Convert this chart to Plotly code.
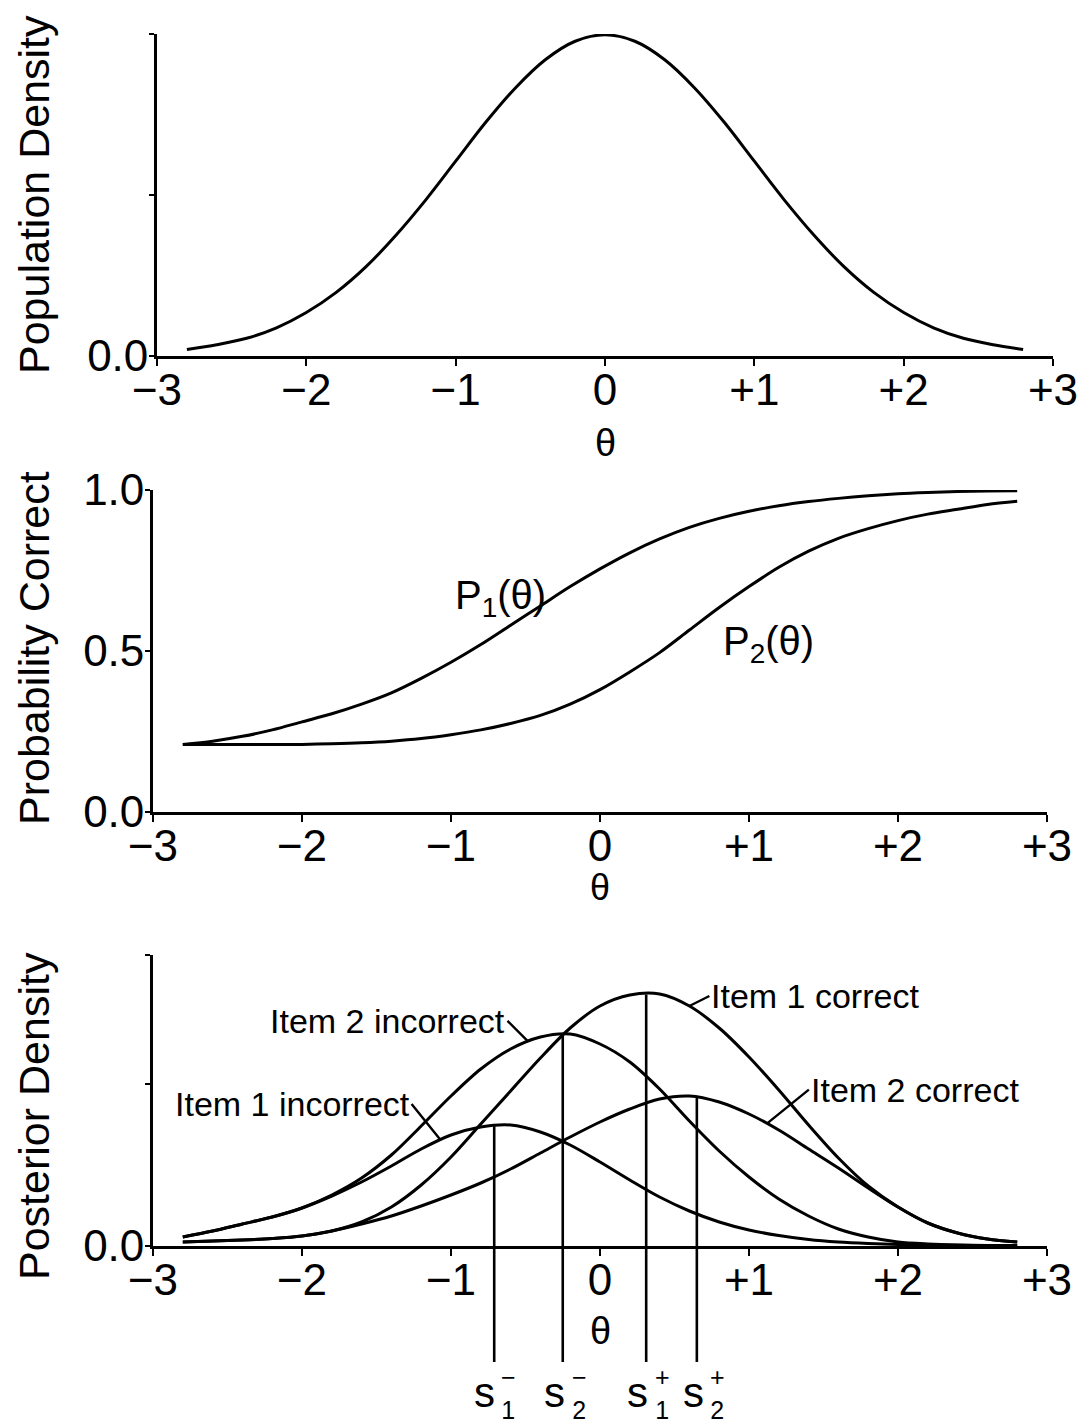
import numpy as np
import plotly.graph_objects as go

# ---------------- data ----------------
THETA = [-2.8, -2.6, -2.4, -2.2, -2.0, -1.8, -1.6, -1.4, -1.2, -1.0, -0.8, -0.6, -0.4, -0.2, 0.0,
         0.2, 0.4, 0.6, 0.8, 1.0, 1.2, 1.4, 1.6, 1.8, 2.0, 2.2, 2.4, 2.6, 2.8]

POP_DENSITY = [0.008, 0.014, 0.022, 0.035, 0.054, 0.079, 0.111, 0.150, 0.194, 0.242, 0.290, 0.333, 0.368, 0.391, 0.399,
               0.391, 0.368, 0.333, 0.290, 0.242, 0.194, 0.150, 0.111, 0.079, 0.054, 0.035, 0.022, 0.014, 0.008]

P1 = [0.21, 0.22, 0.235, 0.255, 0.28, 0.305, 0.335, 0.37, 0.415, 0.465, 0.52, 0.58, 0.64, 0.70, 0.755,
      0.805, 0.848, 0.884, 0.912, 0.934, 0.951, 0.964, 0.974, 0.982, 0.988, 0.992, 0.995, 0.997, 0.998]

P2 = [0.21, 0.21, 0.21, 0.21, 0.21, 0.212, 0.215, 0.22, 0.228, 0.24, 0.255, 0.275, 0.30, 0.335, 0.38,
      0.435, 0.495, 0.565, 0.635, 0.70, 0.76, 0.81, 0.85, 0.88, 0.905, 0.925, 0.94, 0.955, 0.965]

# posterior densities (arbitrary units)
ITEM1_CORRECT = [4, 5, 6, 7.5, 10, 15, 24, 39, 61, 89, 122, 155, 188, 218, 240,
                 251, 252, 240, 218, 189, 156, 121, 88, 60, 39, 23, 13, 7, 4]
ITEM1_INCORRECT = [9, 15, 22, 29, 38, 50, 64, 80, 97, 111, 119, 121, 114, 101, 84,
                   66, 49, 35, 24, 16, 10.5, 6.5, 4, 2.5, 1.5, 1, 0.7, 0.5, 0.4]
ITEM2_INCORRECT = [9, 15, 22, 29, 38, 51, 68, 91, 120, 150, 177, 197, 209, 212, 202,
                   184, 157, 125, 95, 69, 47, 30, 17, 9, 4, 2, 1, 0.6, 0.4]
ITEM2_CORRECT = [4, 5, 6, 7.5, 10, 15, 22, 30, 40, 51, 63, 77, 93, 109, 124,
                 137, 147, 150, 144, 132, 116, 97, 78, 58, 39, 23, 13, 7, 4]

# posterior modes s1-, s2-, s1+, s2+
S_THETA = [-0.71, -0.25, 0.31, 0.65]
S_SIGN = ["−", "−", "+", "+"]
S_INDEX = ["1", "2", "1", "2"]

X_TICKS = [-3, -2, -1, 0, 1, 2, 3]
X_TICKTEXT = ["−3", "−2", "−1", "0", "+1", "+2", "+3"]

# ---------------- layout helpers (pixel -> paper) ----------------
W, H = 1079, 1422
FONT = "Liberation Sans, Arial, Helvetica, sans-serif"


def fx(p):
    return p / W


def fy(p):
    return (H - p) / H


LINE_W = 3.0
LINE_BOTTOM = -116  # lines under the third panel run below the axis

curve_style = dict(color="black", width=LINE_W, shape="spline", smoothing=0.9)

fig = go.Figure()

# panel 1
fig.add_trace(go.Scatter(x=THETA, y=POP_DENSITY, mode="lines", line=curve_style,
                         xaxis="x", yaxis="y", showlegend=False, hoverinfo="skip"))
# panel 2
fig.add_trace(go.Scatter(x=THETA, y=P1, mode="lines", line=curve_style,
                         xaxis="x2", yaxis="y2", showlegend=False, hoverinfo="skip"))
fig.add_trace(go.Scatter(x=THETA, y=P2, mode="lines", line=curve_style,
                         xaxis="x2", yaxis="y2", showlegend=False, hoverinfo="skip"))
# panel 3
for series in (ITEM1_CORRECT, ITEM1_INCORRECT, ITEM2_INCORRECT, ITEM2_CORRECT):
    fig.add_trace(go.Scatter(x=THETA, y=series, mode="lines", line=curve_style,
                             xaxis="x3", yaxis="y3", showlegend=False, hoverinfo="skip"))

# vertical lines at the posterior modes
mode_curves = [ITEM1_INCORRECT, ITEM2_INCORRECT, ITEM1_CORRECT, ITEM2_CORRECT]
for s, curve in zip(S_THETA, mode_curves):
    top = float(np.interp(s, THETA, curve))
    fig.add_trace(go.Scatter(x=[s, s], y=[LINE_BOTTOM, top], mode="lines",
                             line=dict(color="black", width=2.6),
                             xaxis="x3", yaxis="y4", showlegend=False, hoverinfo="skip"))

tickfont = dict(family=FONT, size=44, color="black")
xcommon = dict(range=[-3, 3], tickvals=X_TICKS, ticktext=X_TICKTEXT, ticks="outside",
               ticklen=7, tickwidth=2.4, tickcolor="black", showline=True, linecolor="black",
               linewidth=2.8, showgrid=False, zeroline=False, tickfont=tickfont,
               ticklabelstandoff=-14, automargin=False, fixedrange=True)
ycommon = dict(ticks="outside", ticklen=5, tickwidth=2.4, tickcolor="black", showline=True,
               linecolor="black", linewidth=2.8, showgrid=False, zeroline=False,
               tickfont=tickfont, ticklabelstandoff=-8, automargin=False, fixedrange=True)

fig.update_layout(
    width=W, height=H, autosize=False,
    margin=dict(l=0, r=0, t=0, b=0, pad=0),
    paper_bgcolor="white", plot_bgcolor="rgba(0,0,0,0)",
    font=dict(family=FONT, color="black"),
    xaxis=dict(domain=[fx(157), fx(1053)], anchor="y", **xcommon),
    yaxis=dict(domain=[fy(356), fy(34)], anchor="x", range=[0, 0.4],
               tickvals=[0, 0.2, 0.4], ticktext=["0.0", "", ""], **ycommon),
    xaxis2=dict(domain=[fx(153), fx(1047)], anchor="y2", **xcommon),
    yaxis2=dict(domain=[fy(812), fy(490)], anchor="x2", range=[0, 1],
                tickvals=[0, 0.5, 1.0], ticktext=["0.0", "0.5", "1.0"], **ycommon),
    xaxis3=dict(domain=[fx(153), fx(1047)], anchor="y3", **xcommon),
    yaxis3=dict(domain=[fy(1246), fy(955)], anchor="x3", range=[0, 291],
                tickvals=[0, 162, 291], ticktext=["0.0", "", ""], **ycommon),
    yaxis4=dict(domain=[fy(1362), fy(955)], anchor="x3", range=[LINE_BOTTOM, 291],
                visible=False, fixedrange=True),
)

ann = []
# y-axis titles
for text, yc in (("Population Density", 195), ("Probability Correct", 648), ("Posterior Density", 1116)):
    ann.append(dict(text=text, xref="paper", yref="paper", x=fx(34), y=fy(yc),
                    textangle=-90, showarrow=False, xanchor="center", yanchor="middle",
                    font=dict(family=FONT, size=43, color="black")))
# theta labels
for xr, yc, fs in (("x", 443, 38), ("x2", 887, 36), ("x3", 1331, 38)):
    ann.append(dict(text="θ", xref=xr, yref="paper", x=0, y=fy(yc), showarrow=False,
                    xanchor="center", yanchor="middle",
                    font=dict(family=FONT, size=fs, color="black")))
# P labels
ann.append(dict(text="P<sub>1</sub>(θ)", xref="paper", yref="paper", x=fx(500), y=fy(598),
                showarrow=False, xanchor="center", yanchor="middle",
                font=dict(family=FONT, size=40, color="black")))
ann.append(dict(text="P<sub>2</sub>(θ)", xref="paper", yref="paper", x=fx(768), y=fy(644),
                showarrow=False, xanchor="center", yanchor="middle",
                font=dict(family=FONT, size=40, color="black")))

# labelled curves in panel 3 with leader lines
item_font = dict(family=FONT, size=34, color="black")
labels = [
    ("Item 1 correct", 0.60, ITEM1_CORRECT, "left", 20, -10),
    ("Item 2 incorrect", -0.48, ITEM2_INCORRECT, "right", -21, -21),
    ("Item 1 incorrect", -1.07, ITEM1_INCORRECT, "right", -29, -36),
    ("Item 2 correct", 1.12, ITEM2_CORRECT, "left", 42, -34),
]
for text, th, curve, anchor, axp, ayp in labels:
    ann.append(dict(text=text, xref="x3", yref="y3", x=th, y=float(np.interp(th, THETA, curve)),
                    showarrow=True, arrowhead=0, arrowwidth=2.4, arrowcolor="black", standoff=0,
                    ax=axp, ay=ayp, xanchor=anchor, yanchor="middle", font=item_font))

# s labels under the vertical lines (stacked sign over index)
S_LABEL_X = [484, 554, 637, 693]
S_MARK_X = [508, 579, 662, 717]
for i in range(4):
    ann.append(dict(text="s", xref="paper", yref="paper", x=fx(S_LABEL_X[i]), y=fy(1392),
                    showarrow=False, xanchor="center", yanchor="middle",
                    font=dict(family=FONT, size=42, color="black")))
    ann.append(dict(text=S_SIGN[i] + "<br>" + S_INDEX[i], xref="paper", yref="paper",
                    x=fx(S_MARK_X[i]), y=fy(1393), showarrow=False,
                    xanchor="center", yanchor="middle", align="center",
                    font=dict(family=FONT, size=25, color="black")))

fig.update_layout(annotations=ann)

fig.write_html("out.html")
